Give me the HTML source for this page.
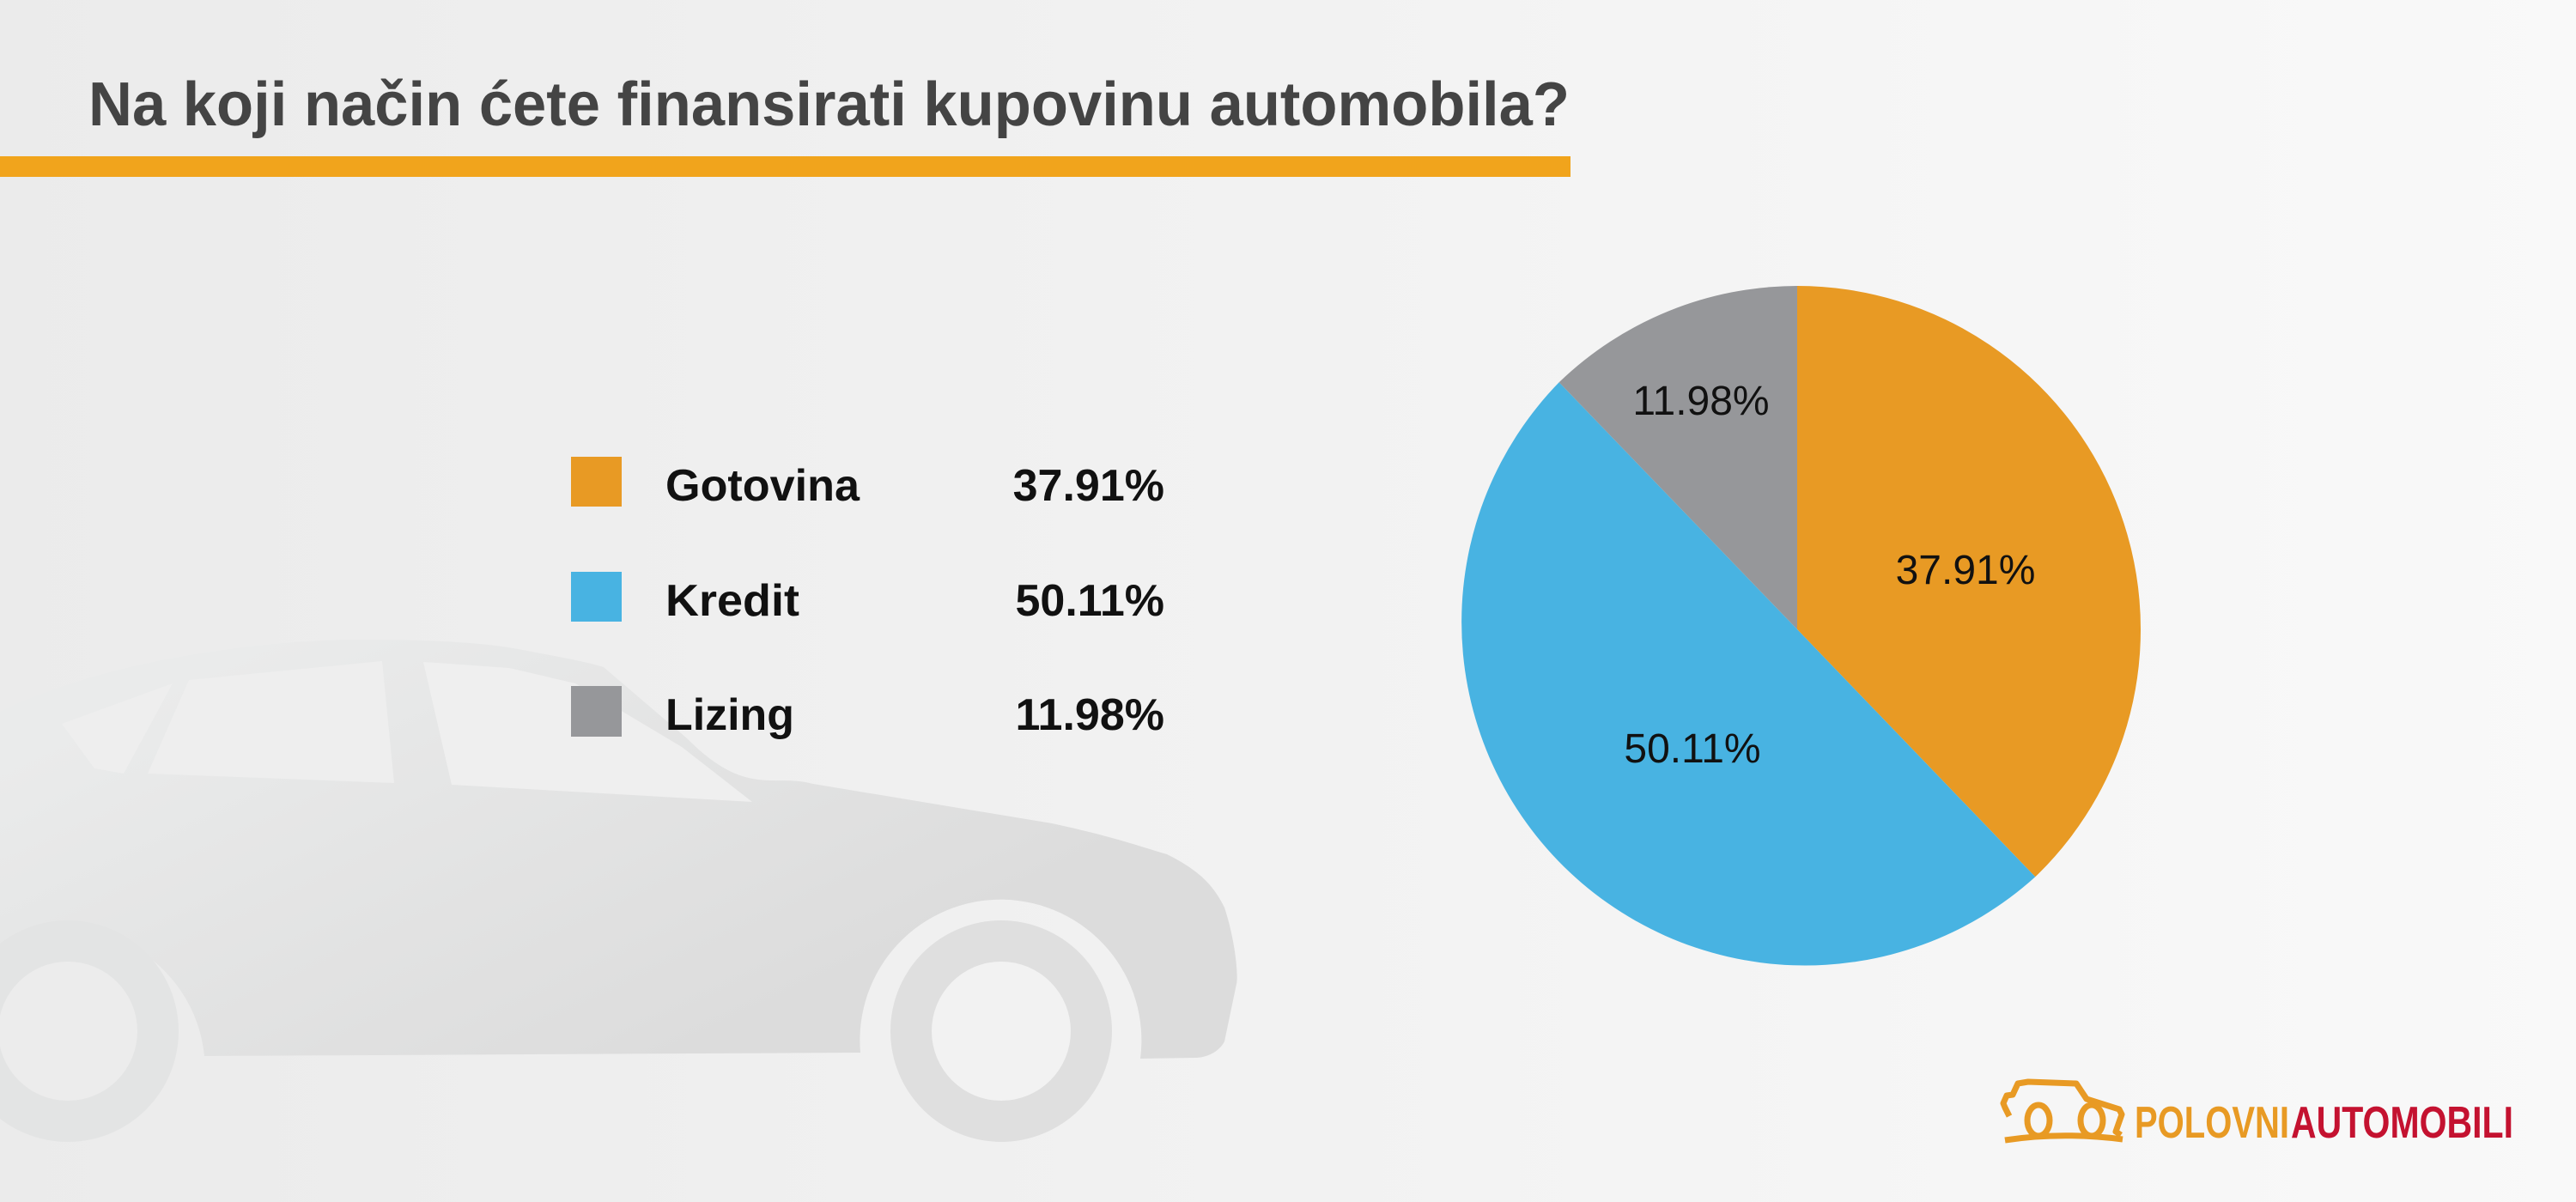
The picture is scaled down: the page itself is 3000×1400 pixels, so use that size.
<!DOCTYPE html>
<html><head><meta charset="utf-8"><style>
html,body{margin:0;padding:0;width:3000px;height:1400px;overflow:hidden}
</style></head><body>
<svg width="3000" height="1400" viewBox="0 0 3000 1400" xmlns="http://www.w3.org/2000/svg">
<defs>
<linearGradient id="bg" x1="0" y1="0" x2="1" y2="0">
<stop offset="0" stop-color="#ebebeb"/><stop offset="1" stop-color="#f9f9f9"/>
</linearGradient>
<linearGradient id="car" x1="0" y1="0.3" x2="0.7" y2="0.8">
<stop offset="0" stop-color="#eaebeb"/><stop offset="1" stop-color="#dcdcdc"/>
</linearGradient>
</defs>
<rect width="3000" height="1400" fill="url(#bg)"/>

<!-- car silhouette -->
<path d="M0,829 C120,770 300,745 421,745 C500,745 560,748 603,756 C650,765 680,770 703,777 L800,860 C870,930 900,900 947,913 L1225,959 C1300,975 1340,990 1359,995 C1400,1015 1415,1035 1426,1057 C1440,1100 1442,1140 1440,1146 L1426,1213 C1420,1225 1405,1232 1392,1232 L1328,1233 A164,164 0 1 0 1002,1226 L238,1230 A164,164 0 0 0 0,1100 Z" fill="url(#car)"/>
<polygon points="72,843 201,796 144,901 110,895" fill="#eeeeee"/>
<polygon points="220,792 445,770 459,912 172,901" fill="#eeeeee"/>
<polygon points="493,771 593,778 670,796 794,870 876,934 526,914" fill="#efefef"/>
<circle cx="1166" cy="1201" r="129" fill="#dfdfdf"/>
<circle cx="1166" cy="1201" r="81" fill="#f2f2f2"/>
<circle cx="79" cy="1201" r="129" fill="#e3e4e4"/>
<circle cx="79" cy="1201" r="81" fill="#ececec"/>

<!-- title -->
<text x="103" y="146" font-family="Liberation Sans, sans-serif" font-weight="bold" font-size="72" fill="#444444" textLength="1725" lengthAdjust="spacingAndGlyphs">Na koji način ćete finansirati kupovinu automobila?</text>
<rect x="0" y="182" width="1829" height="24" fill="#f1a41c"/>

<!-- legend -->
<g font-family="Liberation Sans, sans-serif" font-weight="bold" font-size="52" fill="#111">
<rect x="665" y="532" width="59" height="58" fill="#e89a24"/>
<text x="775" y="583" textLength="226" lengthAdjust="spacingAndGlyphs">Gotovina</text>
<text x="1356" y="583" text-anchor="end">37.91%</text>
<rect x="665" y="666" width="59" height="58" fill="#48b3e2"/>
<text x="775" y="717" textLength="156" lengthAdjust="spacingAndGlyphs">Kredit</text>
<text x="1356" y="717" text-anchor="end">50.11%</text>
<rect x="665" y="799" width="59" height="59" fill="#96979a"/>
<text x="775" y="850" textLength="150" lengthAdjust="spacingAndGlyphs">Lizing</text>
<text x="1356" y="850" text-anchor="end">11.98%</text>
</g>

<!-- pie: center 2093,733 r 400 -->
<path d="M2093,733 L2093,333 A400,400 0 0 1 2370.3,1021.3 Z" fill="#e89a24"/>
<path d="M2093,733 L2370.3,1021.3 A400,400 0 0 1 1815.7,445.3 Z" fill="#48b3e2"/>
<path d="M2093,733 L1815.7,445.3 A400,400 0 0 1 2093,333 Z" fill="#96979a"/>
<g font-family="Liberation Sans, sans-serif" font-size="48" fill="#111" text-anchor="middle">
<text x="1981" y="483">11.98%</text>
<text x="2289" y="680">37.91%</text>
<text x="1971" y="888">50.11%</text>
</g>

<!-- logo -->
<g fill="none" stroke="#e89a24" stroke-width="7" stroke-linejoin="round">
<path d="M2340,1300 L2335,1290 L2333,1285 L2337,1276 L2344,1275 L2350,1262 L2362,1260 L2418,1262 L2430,1280 L2468,1292 L2471,1298 L2464,1318 L2470,1322"/>
<ellipse cx="2374" cy="1305" rx="13" ry="18"/>
<ellipse cx="2436" cy="1305" rx="13" ry="18"/>
<path d="M2335,1328 Q2400,1318 2472,1327"/>
</g>
<text x="2486" y="1325" font-family="Liberation Sans, sans-serif" font-weight="bold" font-size="52" fill="#e89a24" textLength="180" lengthAdjust="spacingAndGlyphs">POLOVNI</text>
<text x="2668" y="1325" font-family="Liberation Sans, sans-serif" font-weight="bold" font-size="52" fill="#c41230" textLength="259" lengthAdjust="spacingAndGlyphs">AUTOMOBILI</text>
</svg>
</body></html>
